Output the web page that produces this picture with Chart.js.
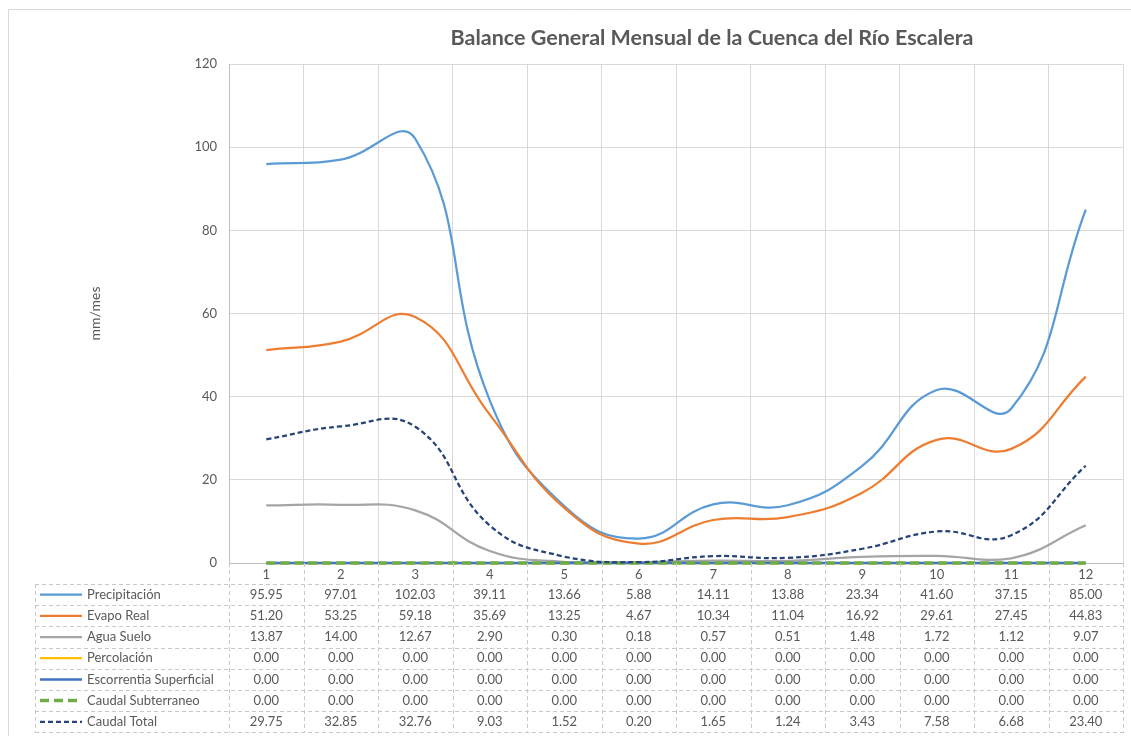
<!DOCTYPE html>
<html>
<head>
<meta charset="utf-8">
<script src="https://cdn.jsdelivr.net/npm/chart.js@4.4.1/dist/chart.umd.min.js"></script>
<style>
  html, body { margin: 0; padding: 0; background: #ffffff; }
  #wrap { width: 1131px; height: 736px; position: relative; }
</style>
</head>
<body>
<div id="wrap"><canvas id="c" width="1131" height="736"></canvas></div>
<script>
// Monthly water balance, mm/mes
const months = ['1', '2', '3', '4', '5', '6', '7', '8', '9', '10', '11', '12'];
const precipitacion = [95.95, 97.01, 102.03, 39.11, 13.66, 5.88, 14.11, 13.88, 23.34, 41.60, 37.15, 85.00];
const evapoReal = [51.20, 53.25, 59.18, 35.69, 13.25, 4.67, 10.34, 11.04, 16.92, 29.61, 27.45, 44.83];
const aguaSuelo = [13.87, 14.00, 12.67, 2.90, 0.30, 0.18, 0.57, 0.51, 1.48, 1.72, 1.12, 9.07];
const percolacion = [0, 0, 0, 0, 0, 0, 0, 0, 0, 0, 0, 0];
const escorrentiaSuperficial = [0, 0, 0, 0, 0, 0, 0, 0, 0, 0, 0, 0];
const caudalSubterraneo = [0, 0, 0, 0, 0, 0, 0, 0, 0, 0, 0, 0];
const caudalTotal = [29.75, 32.85, 32.76, 9.03, 1.52, 0.20, 1.65, 1.24, 3.43, 7.58, 6.68, 23.40];
const yTicks = [0, 20, 40, 60, 80, 100, 120];

const chartTitle = 'Balance General Mensual de la Cuenca del Río Escalera';
const FONT = 'Lato, "Open Sans", sans-serif';
const TEXT = '#595959';

const series = [
  { label: 'Precipitación', data: precipitacion, color: '#5B9BD5', width: 2.25, dash: [] },
  { label: 'Evapo Real', data: evapoReal, color: '#ED7D31', width: 2.25, dash: [] },
  { label: 'Agua Suelo', data: aguaSuelo, color: '#A5A5A5', width: 2.25, dash: [] },
  { label: 'Percolación', data: percolacion, color: '#FFC000', width: 2.25, dash: [] },
  { label: 'Escorrentia Superficial', data: escorrentiaSuperficial, color: '#4472C4', width: 2.5, dash: [] },
  { label: 'Caudal Subterraneo', data: caudalSubterraneo, color: '#70AD47', width: 3.5, dash: [9, 5] },
  { label: 'Caudal Total', data: caudalTotal, color: '#264478', width: 2.25, dash: [5, 3] }
];

// Title, outer frame and the data table under the plot
const tablePlugin = {
  id: 'dataTable',
  afterDraw(chart) {
    const { ctx, chartArea, scales: { x } } = chart;
    const top = chartArea.bottom + 21;
    const rowH = 21.2;
    const left = 35;
    const right = chartArea.right + 1;
    const bottom = top + rowH * series.length;

    ctx.save();
    // outer frame
    ctx.strokeStyle = '#d9d9d9';
    ctx.lineWidth = 1;
    ctx.beginPath();
    ctx.moveTo(8.5, 736);
    ctx.lineTo(8.5, 9.5);
    ctx.lineTo(1131, 9.5);
    ctx.stroke();

    // title
    ctx.fillStyle = TEXT;
    ctx.font = 'bold 21.5px ' + FONT;
    ctx.textAlign = 'center';
    ctx.textBaseline = 'middle';
    ctx.fillText(chartTitle, 712, 38);

    // dashed grid of the table
    ctx.strokeStyle = '#c8c8c8';
    ctx.setLineDash([4, 3]);
    ctx.beginPath();
    for (let r = 0; r <= series.length; r++) {
      const y = Math.round(top + r * rowH) + 0.5;
      ctx.moveTo(left, y);
      ctx.lineTo(right, y);
    }
    ctx.moveTo(left + 0.5, top);
    ctx.lineTo(left + 0.5, bottom);
    const bounds = [chartArea.left];
    for (let i = 0; i < months.length - 1; i++) {
      bounds.push((x.getPixelForValue(i) + x.getPixelForValue(i + 1)) / 2);
    }
    bounds.push(chartArea.right);
    bounds.forEach(b => {
      const xb = Math.round(b) + 0.5;
      ctx.moveTo(xb, chartArea.bottom);
      ctx.lineTo(xb, bottom);
    });
    ctx.stroke();

    // rows: legend key, name, values
    ctx.font = '13px ' + FONT;
    ctx.textBaseline = 'middle';
    series.forEach((s, r) => {
      const cy = top + r * rowH + rowH / 2;
      ctx.strokeStyle = s.color;
      ctx.lineWidth = s.width;
      ctx.setLineDash(s.dash);
      ctx.beginPath();
      ctx.moveTo(40, cy);
      ctx.lineTo(82, cy);
      ctx.stroke();
      ctx.fillStyle = TEXT;
      ctx.textAlign = 'left';
      ctx.fillText(s.label, 87, cy);
      ctx.textAlign = 'center';
      s.data.forEach((v, i) => {
        ctx.fillText(v.toFixed(2), x.getPixelForValue(i), cy);
      });
    });
    ctx.restore();
  }
};

new Chart(document.getElementById('c'), {
  type: 'line',
  data: {
    labels: months,
    datasets: series.map((s, i) => ({
      label: s.label,
      data: s.data,
      borderColor: s.color,
      backgroundColor: s.color,
      borderWidth: s.width,
      borderDash: s.dash,
      pointRadius: 0,
      tension: 0.45,
      fill: false,
      clip: false,
      order: series.length - i
    }))
  },
  options: {
    responsive: false,
    animation: false,
    layout: { padding: { left: 83, top: 64, right: 8, bottom: 0 } },
    plugins: {
      legend: { display: false },
      title: { display: false },
      tooltip: { enabled: false }
    },
    scales: {
      x: {
        type: 'category',
        offset: true,
        grid: { offset: true, color: '#d9d9d9', drawTicks: false },
        border: { color: '#bfbfbf' },
        ticks: { padding: 4, color: TEXT, font: { family: FONT, size: 13 }, maxRotation: 0 },
        afterFit(scale) { scale.height = 736 - 563; }
      },
      y: {
        min: 0,
        max: 120,
        afterBuildTicks(scale) { scale.ticks = yTicks.map(v => ({ value: v })); },
        grid: { color: '#d9d9d9', drawTicks: false },
        border: { color: '#bfbfbf' },
        ticks: { padding: 12, color: TEXT, font: { family: FONT, size: 13 } },
        title: { display: true, text: 'mm/mes', color: TEXT, font: { family: FONT, size: 14 } },
        afterFit(scale) { scale.width = 229 - 83; }
      }
    }
  },
  plugins: [tablePlugin]
});
</script>
</body>
</html>
